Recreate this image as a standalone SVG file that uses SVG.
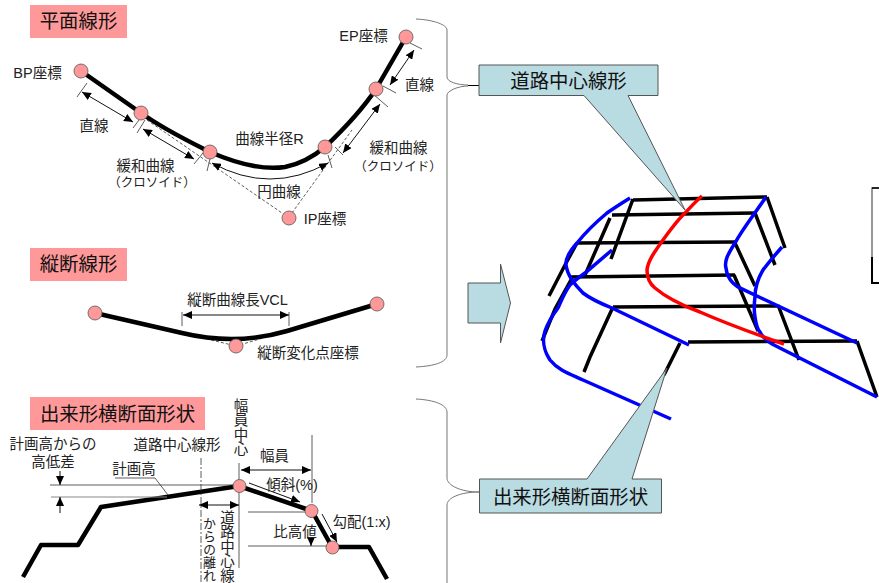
<svg xmlns="http://www.w3.org/2000/svg" width="879" height="583" viewBox="0 0 879 583">
<style>
text{font-family:"Liberation Sans","Noto Sans CJK JP",sans-serif;fill:#222;font-size:14.500px;text-anchor:middle}
.h{font-size:19.400px;fill:#111}
.s{font-size:12.500px}
.v{writing-mode:vertical-rl;text-anchor:start}
.pk{fill:#ff9999}
.nd{fill:#ff9999;stroke:#555;stroke-width:.8}
.cal{fill:#b9dbe2;stroke:#555;stroke-width:1}
.th{fill:none;stroke:#000;stroke-width:4.500;stroke-linejoin:round}
.tn{fill:none;stroke:#333;stroke-width:.8}
.ds{fill:none;stroke:#333;stroke-width:.8;stroke-dasharray:3 2}
.ar{fill:none;stroke:#111;stroke-width:1;marker-end:url(#a);marker-start:url(#b)}
.ae{fill:none;stroke:#111;stroke-width:1;marker-end:url(#a)}
.br{fill:none;stroke:#777;stroke-width:1}
.g{fill:none;stroke:#000;stroke-width:3.500}
.bl{fill:none;stroke:#00f;stroke-width:3.500}
.rd{fill:none;stroke:#f00;stroke-width:3.500}
</style>
<defs>
<marker id="a" markerUnits="userSpaceOnUse" markerWidth="10" markerHeight="8" refX="9" refY="4" orient="auto"><path d="M0,0L9,4L0,8Z" fill="#000"/></marker>
<marker id="b" markerUnits="userSpaceOnUse" markerWidth="10" markerHeight="8" refX="1" refY="4" orient="auto"><path d="M10,0L1,4L10,8Z" fill="#000"/></marker>
</defs>
<g id="connectors">
<path class="ds" d="M147,120L282,213M289,217L352,130"/>
<path class="th" d="M81,71L141,113C165,130 188,141 210,152C240,165 265,170 285,167C300,164 313,157 325,147C345,128 362,110 376,89L406,37"/>
<path class="tn" d="M87,83L77,97M145,120L137,133M139,120L133,128M203,153L194,164M210,159L207,171M328,155L332,168M335,147L343,155M373,94L388,107M383,86L396,93M410,43L422,49"/>
<path class="ar" d="M82,92L133,122"/>
<path class="ar" d="M143,129L194,159"/>
<path class="ar" d="M212,163Q270,195 328,163"/>
<path class="ar" d="M343,153L380,104"/>
<path class="ar" d="M390,85L414,50"/>
<path class="ds" d="M182,333L236,346L287,331"/>
<path class="th" d="M95,313L182,333Q236,346 287,331L377,304"/>
<path class="tn" d="M182,312V326M289,312V326"/>
<path class="ar" d="M183,315H289"/>
<path class="th" d="M23,577L41,545H78L101,507L239,486L312,511L332,547H369L387,579"/>
<path class="tn" d="M50,485H239M115,478H155L168,495M239,463V568M312,435V503M248,512H307M248,546H328M311,511V518"/>
<path d="M51,497H167" fill="none" stroke="#888" stroke-width="1"/>
<path d="M201,458V583" fill="none" stroke="#333" stroke-width=".8" stroke-dasharray="7 2 2 2"/>
<path class="ae" d="M60,471V485"/>
<path class="ae" d="M60,513V497"/>
<path class="ar" d="M199,505H239"/>
<path class="ar" d="M241,470H311"/>
<path class="ae" d="M249,483L300,502"/>
<path class="ae" d="M322,514L337,542"/>
<path class="ae" d="M311,537V546"/>
<path class="br" d="M416,19C435,20 447,25 447,30V77C447,82 458,85 468,85M468,86C458,86 447,91 447,95V355C447,362 435,366 416,367"/>
<path d="M468,85.500H479" stroke="#000" fill="none"/>
<path class="br" d="M416,399C435,400 447,405 447,412V478C447,485 460,492 479,492C460,492 447,498 447,505V583"/>
<g id="road-model">
<path class="g" d="M633,200L767,197M612,215L755,213M577,243L735,242M570,277L735,275M613,307L778,306M688,342L857,341"/>
<path class="g" d="M633,199L611,259M610,218L585,275M577,243L565,265L549,296M572,278L555,309L542,341M613,307L590,357L584,372M680,343L664,375M767,197L785,248M755,213L775,265M735,243L755,286M734,275L758,331M778,305L799,360M857,341L877,397"/>
<path class="bl" d="M630,198C622,203 614,208 607,213C595,223 585,233 577,243C570,251 565,258 566,265C567,272 570,277 572,280C576,286 580,290 583,293C592,300 602,304 612,308L689,345"/>
<path class="bl" d="M612,250L585,273C578,278 574,281 570,285C564,293 561,302 558,308C552,316 547,325 545,331C542,340 544,351 550,360C558,370 570,374 583,380L671,419"/>
<path class="bl" d="M766,197C756,212 743,228 735,243C728,254 724,261 726,268C727,277 731,281 733,283C736,286 739,288 742,289L857,343"/>
<path class="bl" d="M782,247C775,255 769,262 763,270C757,280 755,288 755,297C754,304 754,311 755,317C756,324 757,329 760,332C763,338 767,341 772,344L877,397"/>
<path class="rd" d="M702,196C695,202 689,209 683,215C675,223 669,232 663,240C656,250 648,260 647,270C647,278 650,284 655,288C661,293 667,297 673,300C682,305 691,309 700,312C725,323 755,334 784,344"/>
</g>
<path d="M872,257V188H879" fill="none" stroke="#777" stroke-width="1.500"/>
<path d="M872,257V283H879" fill="none" stroke="#000" stroke-width="2"/>
<path d="M872,188H879" fill="none" stroke="#000" stroke-width="1.500"/>
</g>
<g id="n-hirashiki">
<rect class="pk" x="30" y="5" width="97" height="33"/>
<text class="h" x="78.500" y="28">平面線形</text>
</g>
<g id="n-jusen">
<rect class="pk" x="30" y="248" width="97" height="33"/>
<text class="h" x="78.500" y="271">縦断線形</text>
</g>
<g id="n-dekigata">
<rect class="pk" x="30" y="397" width="175" height="33"/>
<text class="h" x="117.500" y="421">出来形横断面形状</text>
</g>
<g id="points-plan">
<circle class="nd" cx="81" cy="71" r="7"/><circle class="nd" cx="141" cy="113" r="7"/><circle class="nd" cx="210" cy="152" r="7"/><circle class="nd" cx="325" cy="147" r="7"/><circle class="nd" cx="376" cy="89" r="7"/><circle class="nd" cx="406" cy="37" r="7"/><circle class="nd" cx="289" cy="218" r="7"/>
</g>
<g id="points-vertical">
<circle class="nd" cx="95" cy="313" r="7"/><circle class="nd" cx="377" cy="304" r="7"/><circle class="nd" cx="236" cy="346" r="7"/>
</g>
<g id="points-cross">
<circle class="nd" cx="239.500" cy="486" r="6.500"/><circle class="nd" cx="311.500" cy="511" r="6.500"/><circle class="nd" cx="332.500" cy="547.500" r="6.500"/>
</g>
<g id="labels-plan">
<text x="37.500" y="78">BP座標</text>
<text x="363.500" y="41">EP座標</text>
<text x="94" y="131">直線</text>
<text x="145.500" y="171">緩和曲線</text>
<text class="s" x="152" y="187">（クロソイド）</text>
<text x="269.500" y="144">曲線半径R</text>
<text x="279" y="197">円曲線</text>
<text x="325" y="224">IP座標</text>
<text x="419.500" y="90">直線</text>
<text x="398.500" y="153">緩和曲線</text>
<text class="s" x="398" y="171">（クロソイド）</text>
<text x="237.500" y="305">縦断曲線長VCL</text>
<text x="308" y="358">縦断変化点座標</text>
</g>
<g id="labels-cross">
<text x="53" y="449">計画高からの</text>
<text x="53" y="467">高低差</text>
<text x="177" y="450">道路中心線形</text>
<text x="134" y="474">計画高</text>
<text x="274.500" y="461">幅員</text>
<text x="292" y="490">傾斜(%)</text>
<text x="361.500" y="527">勾配(1:x)</text>
<text x="295" y="537">比高値</text>
<text class="v" x="239.500" y="398">幅員中心</text>
<text class="v" x="226" y="510">道路中心線</text>
<text class="v" style="font-size:13px" x="208.500" y="517">からの離れ</text>
</g>
<g id="arrow-block">
<path class="cal" d="M468,283H500.500V264L510.500,303L500.500,343V323H468Z"/>
</g>
<g id="callout-center">
<path class="cal" d="M479,65H658V95.500H628L685,210L584,95.500H479Z"/>
<text class="h" x="568.500" y="88">道路中心線形</text>
</g>
<g id="callout-section">
<path class="cal" d="M479.500,479H587L667,368L632,479H661.500V513H479.500Z"/>
<text class="h" x="570.500" y="504">出来形横断面形状</text>
</g>
</svg>
